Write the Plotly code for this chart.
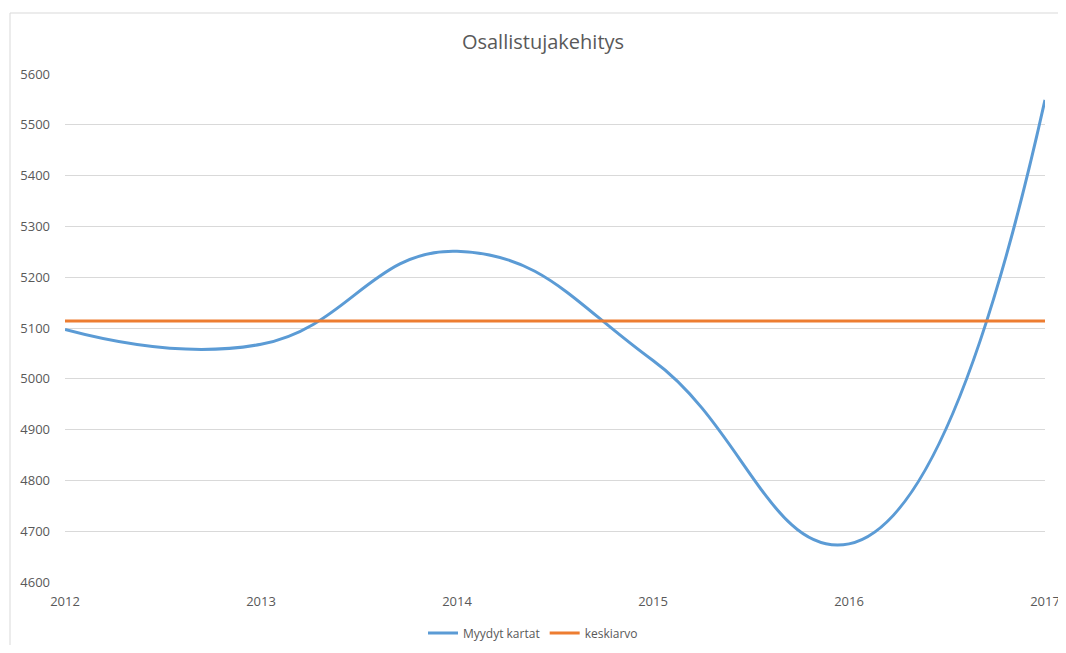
import plotly.graph_objects as go

years = [2012, 2013, 2014, 2015, 2016, 2017]
myydyt_kartat = [5097, 5068, 5251, 5036, 4675, 5549]
keskiarvo = [5114, 5114, 5114, 5114, 5114, 5114]
y_ticks = [4600, 4700, 4800, 4900, 5000, 5100, 5200, 5300, 5400, 5500, 5600]

FONT = "Open Sans, Liberation Sans, sans-serif"
GRAY = "#595959"
W, H = 1058, 637

fig = go.Figure()
fig.add_trace(go.Scatter(
    x=years, y=myydyt_kartat, name="Myydyt kartat", mode="lines",
    line=dict(color="#5B9BD5", width=3, shape="spline", smoothing=1.3),
))
fig.add_trace(go.Scatter(
    x=years, y=keskiarvo, name="keskiarvo", mode="lines",
    line=dict(color="#ED7D31", width=3),
))

fig.update_layout(
    width=W, height=H,
    margin=dict(l=57, r=21, t=66, b=63, autoexpand=False),
    paper_bgcolor="white", plot_bgcolor="white",
    font=dict(family=FONT, color=GRAY, size=13),
    title=dict(text="Osallistujakehitys", x=535 / W, xanchor="center",
               y=1 - 34 / H, yanchor="middle",
               font=dict(family=FONT, size=20, color=GRAY)),
    showlegend=True,
    legend=dict(orientation="h", xref="container", yref="container",
                x=525 / W, xanchor="center", y=1 - 625 / H, yanchor="middle",
                font=dict(family=FONT, size=12, color=GRAY), itemwidth=30,
                traceorder="normal"),
    xaxis=dict(range=[2012, 2017], tickvals=years, ticktext=[str(y) for y in years],
               showgrid=False, zeroline=False, showline=False, ticks="",
               ticklabelstandoff=10, ticklabeloverflow="allow", fixedrange=True),
    yaxis=dict(range=[4600, 5600], tickvals=y_ticks, showgrid=True, gridcolor="#d9d9d9",
               gridwidth=1, zeroline=False, showline=False, ticks="",
               ticklabelstandoff=14, fixedrange=True),
    shapes=[dict(type="rect", xref="paper", yref="paper",
                 x0=(10 - 65) / 980, x1=1.2, y0=-0.3, y1=1 + (74 - 13) / 508,
                 line=dict(color="#d9d9d9", width=1), fillcolor="rgba(0,0,0,0)",
                 layer="below")],
)

fig.write_html("out.html")
